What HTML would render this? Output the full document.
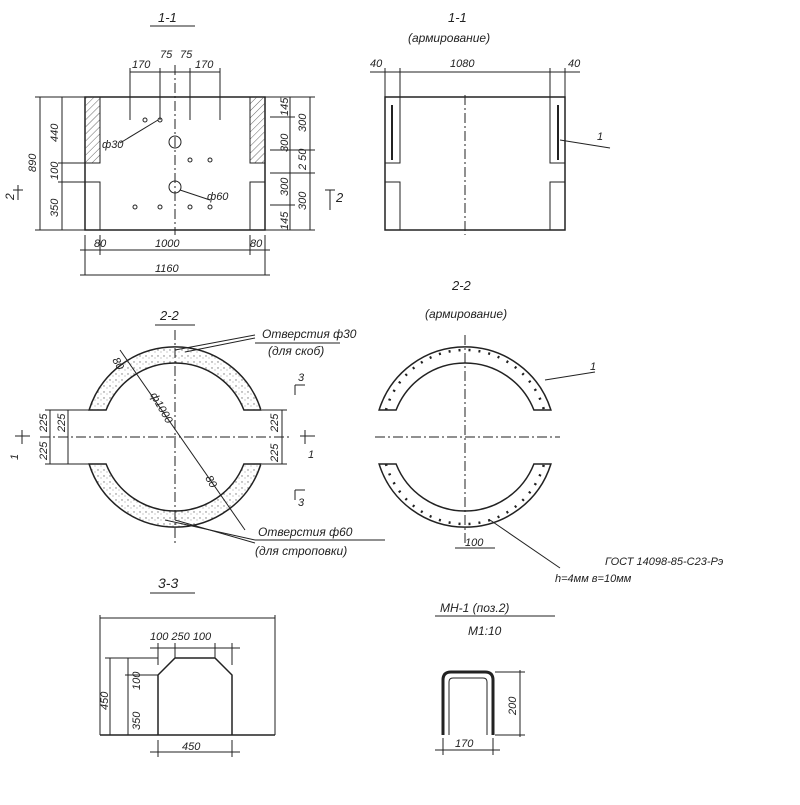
<!DOCTYPE html>
<html><head><meta charset="utf-8"><style>
body{margin:0;background:#fff}
svg text{font-family:"Liberation Sans",sans-serif;font-style:italic;fill:#222}
</style></head><body>
<svg width="800" height="800" viewBox="0 0 800 800" xmlns="http://www.w3.org/2000/svg">
<defs>
<pattern id="h" width="5" height="5" patternUnits="userSpaceOnUse" patternTransform="rotate(45)"><line x1="0" y1="0" x2="0" y2="5" stroke="#666" stroke-width="1"/></pattern>
<pattern id="d" width="6" height="6" patternUnits="userSpaceOnUse"><circle cx="2" cy="2" r="0.7" fill="#777"/><circle cx="5" cy="4" r="0.5" fill="#777"/></pattern>
</defs>
<g stroke="#222" fill="none" stroke-width="1">
<!-- 1-1 left -->
<text x="158" y="22" font-size="13" stroke="none">1-1</text>
<line x1="150" y1="26" x2="195" y2="26"/>
<rect x="85" y="97" width="180" height="133" stroke-width="1.5"/>
<rect x="85" y="97" width="15" height="66" fill="url(#h)"/>
<rect x="250" y="97" width="15" height="66" fill="url(#h)"/>
<rect x="85" y="182" width="15" height="48"/>
<rect x="250" y="182" width="15" height="48"/>
<line x1="175" y1="65" x2="175" y2="235" stroke-dasharray="10,3,2,3"/>
<line x1="130" y1="72" x2="220" y2="72"/>
<line x1="130" y1="68" x2="130" y2="120"/><line x1="160" y1="68" x2="160" y2="120"/><line x1="190" y1="68" x2="190" y2="120"/><line x1="220" y1="68" x2="220" y2="120"/>
<circle cx="175" cy="142" r="6"/><circle cx="175" cy="187" r="6"/>
<circle cx="145" cy="120" r="2"/><circle cx="160" cy="120" r="2"/><circle cx="190" cy="160" r="2"/><circle cx="210" cy="160" r="2"/>
<circle cx="135" cy="207" r="2"/><circle cx="160" cy="207" r="2"/><circle cx="190" cy="207" r="2"/><circle cx="210" cy="207" r="2"/>
<line x1="120" y1="143" x2="158" y2="120"/><line x1="180" y1="190" x2="210" y2="200"/>
<line x1="40" y1="97" x2="40" y2="230"/><line x1="62" y1="97" x2="62" y2="230"/>
<line x1="35" y1="97" x2="85" y2="97"/><line x1="35" y1="230" x2="85" y2="230"/><line x1="58" y1="163" x2="85" y2="163"/><line x1="58" y1="182" x2="85" y2="182"/>
<line x1="85" y1="235" x2="85" y2="275"/><line x1="265" y1="235" x2="265" y2="275"/><line x1="100" y1="235" x2="100" y2="255"/><line x1="250" y1="235" x2="250" y2="255"/>
<line x1="80" y1="250" x2="270" y2="250"/><line x1="80" y1="275" x2="270" y2="275"/>
<line x1="290" y1="97" x2="290" y2="230"/><line x1="310" y1="97" x2="310" y2="230"/>
<line x1="265" y1="97" x2="315" y2="97"/><line x1="265" y1="230" x2="315" y2="230"/>
<line x1="270" y1="117" x2="295" y2="117"/><line x1="270" y1="150" x2="315" y2="150"/><line x1="270" y1="173" x2="315" y2="173"/><line x1="270" y1="205" x2="295" y2="205"/>
<line x1="330" y1="190" x2="330" y2="210"/><line x1="325" y1="190" x2="335" y2="190"/>
<line x1="18" y1="185" x2="18" y2="200"/><line x1="13" y1="190" x2="23" y2="190"/>
</g>
<g font-size="11" stroke="none">
<text x="132" y="68">170</text><text x="160" y="58">75</text><text x="180" y="58">75</text><text x="195" y="68">170</text>
<text x="102" y="148">ф30</text><text x="207" y="200">ф60</text>
<text x="94" y="247">80</text><text x="155" y="247">1000</text><text x="250" y="247">80</text><text x="155" y="272">1160</text>
<text transform="translate(36,172) rotate(-90)">890</text><text transform="translate(58,142) rotate(-90)">440</text>
<text transform="translate(58,180) rotate(-90)">100</text><text transform="translate(58,217) rotate(-90)">350</text>
<text transform="translate(288,116) rotate(-90)">145</text><text transform="translate(306,132) rotate(-90)">300</text>
<text transform="translate(288,152) rotate(-90)">300</text><text transform="translate(306,170) rotate(-90)">2 50</text>
<text transform="translate(288,196) rotate(-90)">300</text><text transform="translate(306,210) rotate(-90)">300</text>
<text transform="translate(288,230) rotate(-90)">145</text>
<text x="336" y="202" font-size="13">2</text><text transform="translate(14,200) rotate(-90)" font-size="12">2</text>
</g>
<!-- 1-1 right -->
<g stroke="#222" fill="none">
<text x="448" y="22" font-size="13" stroke="none">1-1</text>
<text x="408" y="42" font-size="12" stroke="none">(армирование)</text>
<rect x="385" y="97" width="180" height="133" stroke-width="1.5"/>
<rect x="385" y="97" width="15" height="66"/><rect x="550" y="97" width="15" height="66"/>
<rect x="385" y="182" width="15" height="48"/><rect x="550" y="182" width="15" height="48"/>
<line x1="392" y1="105" x2="392" y2="160" stroke-width="2"/><line x1="558" y1="105" x2="558" y2="160" stroke-width="2"/>
<line x1="465" y1="95" x2="465" y2="235" stroke-dasharray="10,3,2,3"/>
<line x1="370" y1="72" x2="580" y2="72"/>
<line x1="385" y1="68" x2="385" y2="97"/><line x1="400" y1="68" x2="400" y2="97"/><line x1="550" y1="68" x2="550" y2="97"/><line x1="565" y1="68" x2="565" y2="97"/>
<line x1="560" y1="140" x2="610" y2="148"/>
<text x="370" y="67" font-size="11" stroke="none">40</text><text x="450" y="67" font-size="11" stroke="none">1080</text><text x="568" y="67" font-size="11" stroke="none">40</text>
<text x="597" y="140" font-size="11" stroke="none">1</text>
</g>
<!-- 2-2 left -->
<g stroke="#222" fill="none">
<text x="160" y="320" font-size="13" stroke="none">2-2</text><line x1="155" y1="325" x2="195" y2="325"/>
<path d="M89.1,410 A90 90 0 0 1 260.9,410 L243.9,410 A74 74 0 0 0 106.1,410 Z" fill="url(#d)" stroke-width="1.5"/>
<path d="M89.1,464 A90 90 0 0 0 260.9,464 L243.9,464 A74 74 0 0 1 106.1,464 Z" fill="url(#d)" stroke-width="1.5"/>
<line x1="40" y1="437" x2="290" y2="437" stroke-dasharray="10,3,2,3"/>
<line x1="175" y1="330" x2="175" y2="545" stroke-dasharray="10,3,2,3"/>
<line x1="120" y1="350" x2="245" y2="530"/>
<line x1="175" y1="350" x2="255" y2="335"/><line x1="185" y1="352" x2="255" y2="338"/>
<line x1="175" y1="520" x2="255" y2="543"/><line x1="165" y1="520" x2="255" y2="540"/>
<line x1="255" y1="343" x2="340" y2="343"/><line x1="255" y1="540" x2="385" y2="540"/>
<line x1="50" y1="410" x2="50" y2="464"/><line x1="68" y1="410" x2="68" y2="464"/>
<line x1="45" y1="410" x2="90" y2="410"/><line x1="45" y1="464" x2="90" y2="464"/>
<line x1="282" y1="410" x2="282" y2="464"/><line x1="262" y1="410" x2="287" y2="410"/><line x1="262" y1="464" x2="287" y2="464"/>
<line x1="295" y1="385" x2="295" y2="395"/><line x1="295" y1="385" x2="305" y2="385"/>
<line x1="295" y1="490" x2="295" y2="500"/><line x1="295" y1="490" x2="305" y2="490"/>
<line x1="305" y1="430" x2="305" y2="444"/><line x1="300" y1="436" x2="315" y2="436"/>
<line x1="22" y1="430" x2="22" y2="444"/><line x1="15" y1="436" x2="30" y2="436"/>
</g>
<g font-size="11" stroke="none">
<text x="262" y="338" font-size="12">Отверстия ф30</text><text x="268" y="355" font-size="12">(для скоб)</text>
<text x="258" y="536" font-size="12">Отверстия ф60</text><text x="255" y="555" font-size="12">(для строповки)</text>
<text transform="translate(112,360) rotate(60)">80</text><text transform="translate(150,395) rotate(60)">ф1000</text>
<text transform="translate(205,478) rotate(60)">80</text>
<text transform="translate(47,460) rotate(-90)">225</text><text transform="translate(47,432) rotate(-90)">225</text>
<text transform="translate(65,432) rotate(-90)">225</text><text transform="translate(278,432) rotate(-90)">225</text>
<text transform="translate(278,462) rotate(-90)">225</text>
<text x="298" y="381">3</text><text x="298" y="506">3</text><text x="308" y="458">1</text><text transform="translate(18,460) rotate(-90)">1</text>
</g>
<!-- 2-2 right -->
<g stroke="#222" fill="none">
<text x="452" y="290" font-size="13" stroke="none">2-2</text>
<text x="425" y="318" font-size="12" stroke="none">(армирование)</text>
<path d="M379.1,410 A90 90 0 0 1 550.9,410 L533.9,410 A74 74 0 0 0 396.1,410 Z" stroke-width="1.5"/>
<path d="M379.1,464 A90 90 0 0 0 550.9,464 L533.9,464 A74 74 0 0 1 396.1,464 Z" stroke-width="1.5"/>
<path d="M386,410 A82 82 0 0 1 544,410" stroke-dasharray="2,8" stroke-width="2.5"/>
<path d="M386,464 A82 82 0 0 0 544,464" stroke-dasharray="2,8" stroke-width="2.5"/>
<line x1="465" y1="335" x2="465" y2="545" stroke-dasharray="10,3,2,3"/>
<line x1="375" y1="437" x2="560" y2="437" stroke-dasharray="10,3,2,3"/>
<line x1="545" y1="380" x2="595" y2="372"/>
<line x1="490" y1="520" x2="560" y2="568"/>
<line x1="455" y1="548" x2="495" y2="548"/>
<text x="590" y="370" font-size="11" stroke="none">1</text>
<text x="465" y="546" font-size="11" stroke="none">100</text>
<text x="605" y="565" font-size="11" stroke="none">ГОСТ 14098-85-С23-Рэ</text>
<text x="555" y="582" font-size="11" stroke="none">h=4мм  в=10мм</text>
</g>
<!-- 3-3 -->
<g stroke="#222" fill="none">
<text x="158" y="588" font-size="14" stroke="none">3-3</text><line x1="150" y1="593" x2="195" y2="593"/>
<line x1="100" y1="735" x2="275" y2="735" stroke-width="1.5"/>
<line x1="100" y1="615" x2="100" y2="735"/><line x1="275" y1="615" x2="275" y2="735"/>
<line x1="100" y1="618" x2="275" y2="618"/>
<path d="M158,735 V675 L175,658 H215 L232,675 V735" stroke-width="1.5"/>
<line x1="150" y1="648" x2="240" y2="648"/>
<line x1="158" y1="643" x2="158" y2="665"/><line x1="175" y1="643" x2="175" y2="658"/><line x1="215" y1="643" x2="215" y2="658"/><line x1="232" y1="643" x2="232" y2="665"/>
<line x1="110" y1="658" x2="110" y2="735"/><line x1="128" y1="658" x2="128" y2="735"/>
<line x1="105" y1="658" x2="158" y2="658"/><line x1="125" y1="675" x2="158" y2="675"/>
<line x1="150" y1="752" x2="240" y2="752"/><line x1="158" y1="740" x2="158" y2="757"/><line x1="232" y1="740" x2="232" y2="757"/>
</g>
<g font-size="11" stroke="none">
<text x="150" y="640">100 250 100</text>
<text transform="translate(108,710) rotate(-90)">450</text>
<text transform="translate(140,730) rotate(-90)">350</text><text transform="translate(140,690) rotate(-90)">100</text>
<text x="182" y="750">450</text>
</g>
<!-- MH-1 -->
<g stroke="#222" fill="none">
<text x="440" y="612" font-size="12" stroke="none">МН-1 (поз.2)</text><line x1="435" y1="616" x2="555" y2="616"/>
<text x="468" y="635" font-size="12" stroke="none">М1:10</text>
<path d="M443,735 V680 Q443,672 451,672 H485 Q493,672 493,680 V735" stroke-width="3"/>
<path d="M449,735 V682 Q449,678 453,678 H483 Q487,678 487,682 V735" stroke-width="1"/>
<line x1="520" y1="670" x2="520" y2="737"/><line x1="495" y1="672" x2="525" y2="672"/><line x1="495" y1="735" x2="525" y2="735"/>
<line x1="435" y1="750" x2="500" y2="750"/><line x1="443" y1="738" x2="443" y2="755"/><line x1="493" y1="738" x2="493" y2="755"/>
<text x="455" y="747" font-size="11" stroke="none">170</text>
<text transform="translate(516,715) rotate(-90)" font-size="11" stroke="none">200</text>
</g>
</svg>
</body></html>
